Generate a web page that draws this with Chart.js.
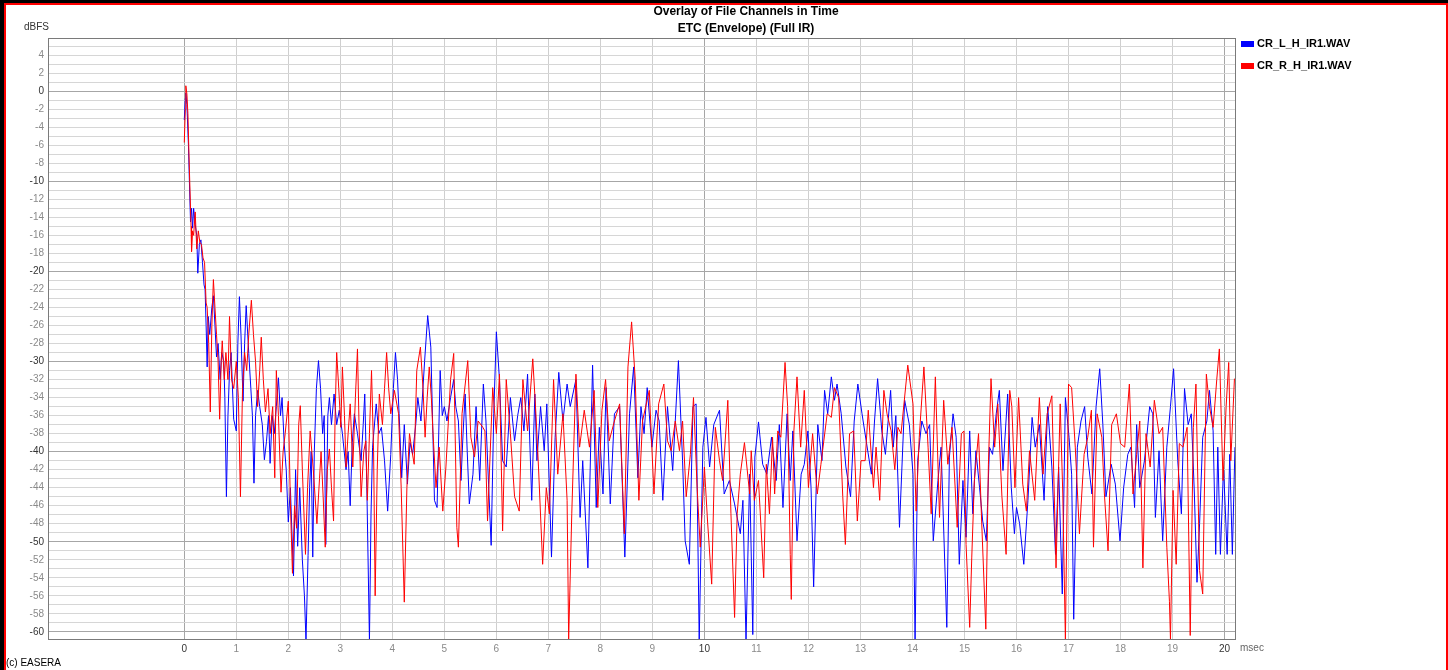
<!DOCTYPE html>
<html>
<head>
<meta charset="utf-8">
<title>Overlay of File Channels in Time</title>
<script src="https://cdn.jsdelivr.net/npm/chart.js@4.4.1/dist/chart.umd.min.js"></script>
<style>
  html, body { margin: 0; padding: 0; background: #000; overflow: hidden; }
  body { width: 1448px; height: 670px; position: relative; font-family: "Liberation Sans", Arial, sans-serif; }
  #panel {
    position: absolute; left: 4px; top: 3px; width: 1440px; height: 700px;
    background: #fff; border: 2px solid #ff0000;
  }
  #wrap { position: absolute; left: 0; top: 0; width: 1448px; height: 670px; }
  .txt { position: absolute; white-space: nowrap; color: #000; }
  .title { font-weight: bold; font-size: 12px; transform: translateX(-50%); }
  .legend { font-size: 11px; font-weight: bold; }
  .swatch { position: absolute; width: 13px; height: 6px; }
</style>
</head>
<body>
<div id="panel"></div>
<div id="wrap"><canvas id="etc"></canvas></div>

<div class="txt title" style="left:746px; top:4px;">Overlay of File Channels in Time</div>
<div class="txt title" style="left:746px; top:21px;">ETC (Envelope) (Full IR)</div>
<div class="txt" style="left:24px; top:21px; font-size:10px; color:#333;">dBFS</div>
<div class="txt" style="left:1240px; top:642px; font-size:10px; color:#666;">msec</div>
<div class="txt" style="left:6px; top:657px; font-size:10px;">(c) EASERA</div>

<div class="swatch" style="left:1241px; top:41px; background:#0000ff;"></div>
<div class="txt legend" style="left:1257px; top:37px;">CR_L_H_IR1.WAV</div>
<div class="swatch" style="left:1241px; top:63px; background:#ff0000;"></div>
<div class="txt legend" style="left:1257px; top:59px;">CR_R_H_IR1.WAV</div>

<script>
"use strict";

// ── Data (time in msec, level in dBFS) ──────────────────────────────── //
const seriesNames = ["CR_L_H_IR1.WAV", "CR_R_H_IR1.WAV"];

const leftChannel = [
  [0.00,-3.2],[0.02,-0.8],[0.03,-0.2],[0.05,-1.5],[0.08,-6],[0.10,-10.3],[0.12,-14.5],[0.14,-13],[0.16,-15.2],[0.18,-13],
  [0.21,-14.8],[0.24,-16],[0.26,-20.2],[0.29,-17],[0.32,-16.5],[0.35,-19],[0.38,-21.5],[0.40,-22],[0.42,-26],[0.44,-30.6],
  [0.46,-25],[0.49,-27],[0.53,-24],[0.56,-22.7],[0.59,-26],[0.62,-29.5],[0.65,-28],[0.69,-32],[0.72,-29],[0.76,-30],
  [0.78,-34],[0.81,-45],[0.84,-36],[0.87,-31],[0.90,-29],[0.95,-36.4],[1.00,-37.7],[1.03,-28],[1.06,-22.8],[1.09,-27],
  [1.13,-34.4],[1.16,-28],[1.19,-23.8],[1.24,-29.1],[1.28,-33],[1.31,-36],[1.34,-43.5],[1.37,-36],[1.41,-33.2],[1.45,-35],
  [1.50,-37],[1.54,-40.9],[1.58,-38.9],[1.62,-36],[1.65,-41.3],[1.69,-36],[1.73,-38],[1.77,-35],[1.81,-31.8],[1.85,-36],
  [1.88,-34],[1.92,-39],[1.96,-42],[2.00,-47.8],[2.04,-44],[2.07,-49],[2.10,-53.8],[2.14,-42],[2.18,-50.5],[2.22,-44],
  [2.27,-52],[2.31,-56],[2.34,-61],[2.38,-51.5],[2.41,-44],[2.44,-40],[2.47,-51.7],[2.50,-40],[2.54,-33],[2.58,-29.9],
  [2.62,-33],[2.66,-38],[2.69,-36],[2.72,-50.3],[2.76,-36],[2.79,-34],[2.83,-37],[2.88,-33.6],[2.93,-37],[2.98,-35.4],
  [3.04,-38],[3.11,-42],[3.15,-40],[3.19,-46],[3.23,-39],[3.27,-35.8],[3.33,-38],[3.40,-41],[3.44,-37],[3.47,-33.6],
  [3.51,-44],[3.56,-61],[3.59,-47],[3.62,-39.5],[3.69,-34.7],[3.74,-38],[3.79,-37.3],[3.85,-41],[3.91,-46.6],[3.97,-40.3],
  [4.02,-33],[4.06,-29],[4.10,-32],[4.13,-35.8],[4.18,-42.9],[4.23,-37],[4.29,-43.6],[4.34,-39],[4.39,-40.3],[4.45,-37],
  [4.49,-34],[4.55,-36.6],[4.62,-30],[4.68,-24.9],[4.74,-28.4],[4.78,-38],[4.81,-45.4],[4.86,-46.2],[4.92,-31],[4.96,-36],
  [5.00,-35],[5.05,-36.6],[5.12,-34],[5.18,-32],[5.22,-35],[5.27,-36.6],[5.32,-43.2],[5.36,-38],[5.40,-33.6],[5.44,-40],
  [5.48,-45.8],[5.55,-42.5],[5.61,-35],[5.68,-43.2],[5.75,-32.5],[5.80,-36.6],[5.85,-43.6],[5.90,-50.4],[5.95,-35.8],[6.00,-26.7],
  [6.06,-32],[6.12,-41],[6.19,-41.7],[6.27,-34],[6.35,-38.8],[6.41,-36],[6.47,-34],[6.53,-37.7],[6.60,-31.4],[6.68,-45.4],
  [6.74,-33.6],[6.78,-41],[6.85,-35],[6.92,-39.9],[6.97,-34.7],[7.06,-51.7],[7.13,-38.4],[7.20,-31.2],[7.28,-36.6],[7.36,-32.5],
  [7.42,-35],[7.53,-32],[7.61,-47.3],[7.66,-41],[7.76,-52.9],[7.85,-30.4],[7.92,-46.2],[7.98,-37.3],[8.05,-44.7],[8.11,-32.9],
  [8.19,-45.8],[8.27,-35.8],[8.37,-35],[8.47,-51.7],[8.56,-35.8],[8.64,-30.6],[8.72,-42.9],[8.78,-35],[8.84,-38],[8.90,-32.9],
  [8.99,-39.5],[9.07,-35.4],[9.13,-36.6],[9.20,-45.4],[9.29,-35],[9.39,-42.1],[9.50,-29.9],[9.58,-41],[9.63,-49.9],[9.71,-52.5],
  [9.78,-35],[9.84,-34.7],[9.90,-61],[9.97,-39.5],[10.03,-36.2],[10.10,-41.7],[10.18,-37],[10.29,-35.4],[10.38,-44.7],[10.48,-43.2],
  [10.58,-45.8],[10.69,-49.1],[10.74,-45.4],[10.80,-61],[10.87,-42.5],[10.93,-60.3],[10.97,-40.6],[11.04,-36.7],[11.12,-41.4],[11.20,-42.5],
  [11.29,-38.4],[11.38,-43.2],[11.44,-37],[11.51,-46.2],[11.59,-35.8],[11.65,-43.2],[11.70,-37.7],[11.78,-49.9],[11.86,-42.5],[11.92,-41.4],
  [11.99,-37.7],[12.05,-44],[12.10,-55],[12.18,-37],[12.26,-41],[12.31,-33.2],[12.37,-35.8],[12.44,-31.7],[12.50,-34.3],[12.55,-32.5],
  [12.63,-35.8],[12.72,-41.7],[12.81,-45],[12.88,-36.6],[12.95,-32.5],[13.03,-35.8],[13.11,-38.8],[13.21,-42.5],[13.27,-36.6],[13.33,-31.9],
  [13.41,-37.7],[13.48,-40.3],[13.58,-33.2],[13.63,-39.5],[13.68,-36],[13.75,-48.4],[13.85,-34.3],[13.94,-37],[14.01,-42.5],[14.05,-60.8],
  [14.10,-41],[14.18,-36.6],[14.26,-38],[14.33,-37],[14.40,-49.9],[14.49,-43.2],[14.55,-39.5],[14.66,-59.5],[14.71,-40.6],[14.78,-35.8],
  [14.84,-38.4],[14.90,-52.5],[14.97,-43.2],[15.03,-49.5],[15.10,-37.7],[15.16,-46.9],[15.22,-39.9],[15.29,-44],[15.35,-47.7],[15.42,-49.9],
  [15.48,-39.5],[15.54,-40.3],[15.61,-35.8],[15.67,-33.2],[15.74,-42.1],[15.83,-33.6],[15.90,-44],[15.96,-49.1],[16.00,-46.2],[16.06,-48],
  [16.14,-52.5],[16.22,-45.4],[16.30,-36.2],[16.36,-39.5],[16.44,-37],[16.53,-45.4],[16.60,-35],[16.68,-41.7],[16.75,-51.4],[16.81,-41.7],
  [16.88,-55.8],[16.94,-34],[17.01,-38.4],[17.06,-42.5],[17.10,-58.6],[17.17,-39.5],[17.24,-36.6],[17.31,-35],[17.37,-40.6],[17.45,-44.7],
  [17.53,-35],[17.60,-30.8],[17.66,-37],[17.72,-45],[17.82,-41.4],[17.90,-43.6],[17.99,-49.9],[18.06,-44],[18.14,-40.3],[18.20,-39.5],
  [18.27,-46.2],[18.31,-37],[18.37,-44],[18.46,-41],[18.56,-35],[18.62,-35.8],[18.67,-47.3],[18.74,-39.9],[18.81,-49.9],[18.89,-39.5],
  [18.96,-35],[19.02,-30.8],[19.10,-41],[19.17,-46.9],[19.23,-33],[19.30,-37],[19.36,-35.8],[19.42,-44.7],[19.47,-54.5],[19.52,-48],
  [19.58,-38.4],[19.66,-36.6],[19.71,-33.2],[19.78,-37.7],[19.83,-51.4],[19.87,-39.5],[19.92,-51.4],[19.98,-41.7],[20.05,-51.4],[20.10,-40.3],
  [20.15,-51.4],[20.20,-39.5]
];

const rightChannel = [
  [0.00,-5.7],[0.02,-2],[0.03,0.6],[0.05,-0.3],[0.07,-2.5],[0.09,-7],[0.11,-11],[0.13,-15],[0.14,-17.8],[0.16,-15.5],
  [0.18,-16],[0.21,-13.4],[0.24,-17.5],[0.27,-15.5],[0.30,-16.8],[0.33,-17],[0.36,-18.5],[0.39,-19],[0.42,-23.5],[0.44,-24],
  [0.47,-28],[0.50,-35.6],[0.53,-26],[0.56,-20.9],[0.59,-24],[0.62,-27],[0.65,-30],[0.68,-36.4],[0.71,-30],[0.73,-27.7],
  [0.77,-32],[0.80,-29],[0.84,-32],[0.87,-25],[0.91,-32],[0.95,-33],[1.00,-30],[1.04,-34],[1.08,-45],[1.12,-33],
  [1.16,-29],[1.20,-31],[1.24,-27],[1.29,-23.2],[1.33,-27],[1.37,-30],[1.41,-35],[1.45,-31],[1.48,-27.3],[1.52,-32],
  [1.56,-35.6],[1.61,-33],[1.65,-38],[1.70,-35],[1.74,-42.9],[1.77,-31],[1.81,-36],[1.86,-44.5],[1.90,-40],[1.94,-38],
  [2.00,-34.4],[2.04,-45.7],[2.08,-53.5],[2.12,-46],[2.16,-48.5],[2.20,-37],[2.23,-34.9],[2.27,-42],[2.33,-51.4],[2.37,-44],
  [2.42,-37.7],[2.48,-42],[2.55,-48],[2.60,-43],[2.63,-40],[2.67,-45],[2.71,-50.6],[2.75,-42],[2.79,-39.7],[2.83,-44],
  [2.87,-47.7],[2.90,-36],[2.93,-29],[2.97,-33],[3.01,-37.3],[3.04,-30.6],[3.08,-36],[3.11,-41.7],[3.15,-38],[3.19,-34.7],
  [3.24,-41.7],[3.29,-34],[3.33,-28.6],[3.36,-37],[3.40,-45],[3.45,-40],[3.49,-38.8],[3.52,-45.4],[3.56,-38],[3.60,-31],
  [3.64,-40],[3.67,-56],[3.71,-42],[3.75,-33.6],[3.81,-37],[3.85,-33],[3.89,-29],[3.93,-33],[3.97,-35.8],[4.04,-33.2],
  [4.12,-35.8],[4.17,-44],[4.23,-56.7],[4.28,-44],[4.33,-38],[4.38,-40],[4.42,-41.4],[4.47,-31],[4.54,-28.4],[4.59,-33],
  [4.63,-38.4],[4.67,-34],[4.71,-30.6],[4.75,-34],[4.78,-37.7],[4.84,-44],[4.90,-39.5],[4.97,-46.6],[5.03,-41.7],[5.12,-32],
  [5.18,-29.1],[5.24,-48.4],[5.27,-50.6],[5.34,-35.8],[5.45,-29.9],[5.51,-38.4],[5.58,-40.6],[5.65,-36.6],[5.74,-37.3],[5.78,-37.7],
  [5.83,-47.7],[5.93,-32.9],[6.00,-38],[6.06,-31.4],[6.12,-48.8],[6.19,-32],[6.27,-38],[6.35,-45],[6.44,-46.6],[6.51,-32],
  [6.60,-37.7],[6.70,-29.7],[6.76,-35.8],[6.81,-41.7],[6.89,-52.5],[6.96,-44],[7.02,-46.9],[7.10,-32],[7.18,-42.5],[7.28,-35.8],
  [7.36,-45.4],[7.39,-60.8],[7.45,-46.9],[7.53,-31.4],[7.60,-39.5],[7.69,-35.4],[7.79,-39.5],[7.88,-33.2],[7.95,-46.2],[8.03,-35.4],
  [8.10,-32],[8.17,-38.8],[8.27,-36.6],[8.37,-34.7],[8.43,-44.3],[8.46,-49.1],[8.53,-30.6],[8.60,-25.6],[8.67,-32],[8.74,-45.4],
  [8.81,-36.6],[8.94,-33.2],[9.03,-44.7],[9.12,-34.7],[9.22,-32.5],[9.29,-38.8],[9.36,-39.9],[9.44,-36.6],[9.52,-39.9],[9.58,-36.6],
  [9.65,-45],[9.73,-40.3],[9.79,-34],[9.86,-44],[9.92,-50.6],[10.00,-41.7],[10.06,-47.7],[10.14,-54.7],[10.21,-37.3],[10.29,-41],
  [10.35,-43.2],[10.45,-34.3],[10.51,-46.9],[10.58,-58.4],[10.63,-46.9],[10.69,-42.5],[10.77,-39],[10.87,-44.7],[10.90,-39.9],[10.96,-45.4],
  [11.04,-43.2],[11.14,-54],[11.19,-41.4],[11.25,-46.9],[11.31,-38.4],[11.35,-44.7],[11.41,-37.7],[11.47,-38.4],[11.55,-30.1],[11.60,-35],
  [11.65,-51.4],[11.67,-56.4],[11.72,-37.7],[11.78,-31.7],[11.85,-39.5],[11.92,-33.2],[12.00,-44],[12.08,-38],[12.17,-44.7],[12.24,-41.4],
  [12.36,-35.8],[12.44,-36.2],[12.50,-32.9],[12.58,-34],[12.66,-45],[12.71,-50.3],[12.79,-38],[12.87,-37.7],[12.94,-47.7],[13.01,-41],
  [13.09,-41],[13.15,-35.4],[13.25,-44],[13.30,-39.5],[13.37,-45.4],[13.45,-33.2],[13.51,-35.8],[13.59,-37.7],[13.66,-42],[13.72,-37.3],
  [13.78,-38],[13.91,-30.4],[14.01,-34.7],[14.07,-46.6],[14.13,-38.4],[14.22,-30.6],[14.30,-39.5],[14.36,-46.9],[14.44,-31.7],[14.52,-47.3],
  [14.60,-34.3],[14.68,-41.4],[14.76,-37.3],[14.86,-48.4],[14.94,-38],[14.99,-37.7],[15.03,-50.3],[15.10,-59.5],[15.14,-51.7],[15.19,-43.2],
  [15.27,-38],[15.33,-47.7],[15.41,-59.7],[15.46,-41.4],[15.51,-31.9],[15.58,-39.5],[15.64,-34.7],[15.72,-45],[15.80,-51.4],[15.87,-33.2],
  [15.91,-35],[15.97,-44],[16.04,-34],[16.12,-43.6],[16.19,-46.6],[16.25,-39.9],[16.35,-45.4],[16.44,-34],[16.51,-42.5],[16.59,-35.8],
  [16.68,-33.8],[16.76,-52.9],[16.84,-34.7],[16.89,-44.7],[16.94,-61],[17.00,-32.5],[17.06,-32.9],[17.13,-39.5],[17.21,-49.1],[17.30,-40.3],
  [17.37,-38.4],[17.44,-35.4],[17.48,-50.6],[17.55,-35.8],[17.64,-38.4],[17.69,-44.7],[17.76,-51],[17.83,-37],[17.92,-35.8],[18.00,-39.1],
  [18.08,-39.5],[18.17,-32.5],[18.24,-44.7],[18.31,-40.3],[18.37,-36.6],[18.43,-52.9],[18.49,-38],[18.57,-41.7],[18.65,-34.3],[18.74,-38],
  [18.81,-37.3],[18.89,-50.6],[18.94,-56.6],[18.96,-60.8],[19.01,-44.3],[19.07,-52.5],[19.13,-39.1],[19.20,-39.5],[19.28,-37.3],[19.34,-60.4],
  [19.40,-37.3],[19.45,-32.5],[19.52,-53.2],[19.58,-55.8],[19.65,-31.4],[19.71,-35],[19.78,-37.3],[19.85,-32],[19.90,-28.6],[19.97,-43.2],
  [20.03,-35],[20.08,-30.1],[20.12,-41],[20.19,-31.9]
];

// axis ranges
const X_MIN = -2.62, X_MAX = 20.22;
const Y_MIN = -60.9, Y_MAX = 5.9;

// ── Helpers ────────────────────────────────────────────────────────── //
const toPoints = arr => arr.map(([t, db]) => ({ x: t, y: db }));

const plotFrame = {
  id: "plotFrame",
  afterDatasetsDraw(chart) {
    const { ctx, chartArea: a } = chart;
    ctx.save();
    ctx.strokeStyle = "#7a7a7a";
    ctx.lineWidth = 1;
    ctx.strokeRect(a.left + 0.5, a.top + 0.5, a.right - a.left - 1, a.bottom - a.top - 1);
    ctx.restore();
  }
};

const FONT = { family: "'Liberation Sans', Arial, sans-serif", size: 10 };

// ── Chart ──────────────────────────────────────────────────────────── //
new Chart(document.getElementById("etc"), {
  type: "line",
  data: {
    datasets: [
      {
        label: seriesNames[0],
        data: toPoints(leftChannel),
        borderColor: "#0000ff",
        borderWidth: 1,
        pointRadius: 0,
        tension: 0,
        order: 1,
      },
      {
        label: seriesNames[1],
        data: toPoints(rightChannel),
        borderColor: "#ff0000",
        borderWidth: 1,
        pointRadius: 0,
        tension: 0,
        order: 0,
      },
    ],
  },
  options: {
    responsive: true,
    maintainAspectRatio: false,
    animation: false,
    parsing: false,
    normalized: true,
    layout: { padding: { top: 38, right: 212, left: 0, bottom: 0 } },
    plugins: { legend: { display: false }, tooltip: { enabled: false } },
    scales: {
      x: {
        type: "linear",
        min: X_MIN,
        max: X_MAX,
        afterFit: s => { s.height = 30; },
        border: { display: false },
        grid: {
          drawTicks: false,
          color: c => c.tick.value < 0 ? "rgba(0,0,0,0)" : (c.tick.value % 10 === 0 ? "#a6a6a6" : "#cfcfcf"),
        },
        ticks: {
          stepSize: 1,
          includeBounds: false,
          autoSkip: false,
          maxRotation: 0,
          padding: 3,
          font: FONT,
          color: c => c.tick.value % 10 === 0 ? "#333" : "#8a8a8a",
          callback: v => v < 0 ? "" : String(Math.round(v)),
        },
      },
      y: {
        type: "linear",
        min: Y_MIN,
        max: Y_MAX,
        afterFit: s => { s.width = 48; },
        border: { display: false },
        grid: {
          drawTicks: false,
          color: c => c.tick.value % 10 === 0 ? "#a6a6a6" : "#d6d6d6",
        },
        ticks: {
          stepSize: 1,
          includeBounds: false,
          autoSkip: false,
          padding: 4,
          font: FONT,
          color: c => c.tick.value % 10 === 0 ? "#333" : "#8a8a8a",
          callback: v => Math.round(v) % 2 === 0 ? String(Math.round(v)) : "",
        },
      },
    },
  },
  plugins: [plotFrame],
});
</script>
</body>
</html>
